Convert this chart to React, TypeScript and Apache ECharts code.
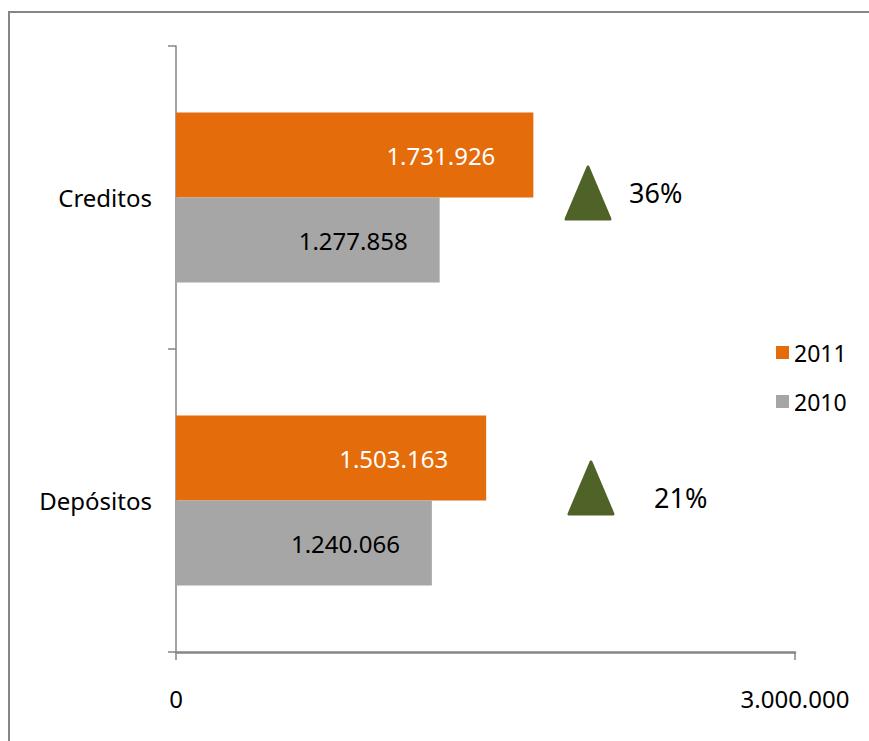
import React, { useEffect, useRef } from "react";
import * as echarts from "echarts";

const categories = ["Creditos", "Depósitos"];
const seriesNames = ["2011", "2010"];
const values2011 = [1731926, 1503163];
const values2010 = [1277858, 1240066];
const axisTicks = [0, 3000000];

const FONT = "Noto Sans";

function fmt(v: number): string {
  return Math.round(v).toString().replace(/\B(?=(\d{3})+(?!\d))/g, ".");
}

function pct(a: number, b: number): string {
  return Math.round((a / b - 1) * 100) + "%";
}

export default function App() {
  const ref = useRef<HTMLDivElement>(null);
  useEffect(() => {
    if (!ref.current) return;
    const chart = echarts.init(ref.current, undefined, { renderer: "svg" });
    const growth = categories.map((_, i) => pct(values2011[i], values2010[i]));
    const tri = (cx: number, top: number) => ({
      type: "polygon",
      shape: {
        points: [
          [cx, top],
          [cx - 22, top + 52],
          [cx + 22, top + 52],
        ],
      },
      style: { fill: "#4F6228", stroke: "#4F6228", lineWidth: 3, lineJoin: "round" },
    });
    chart.setOption({
      animation: false,
      backgroundColor: "#ffffff",
      grid: { left: 176, right: 74, top: 46, bottom: 89, containLabel: false },
      legend: {
        data: seriesNames,
        orient: "vertical",
        left: 771,
        top: 336,
        icon: "rect",
        itemWidth: 13,
        itemHeight: 13,
        itemGap: 26,
        textStyle: { fontFamily: FONT, fontSize: 23, color: "#000" },
      },
      xAxis: {
        type: "value",
        min: axisTicks[0],
        max: axisTicks[1],
        interval: axisTicks[1] - axisTicks[0],
        axisLine: { show: true, lineStyle: { color: "#868686", width: 2.5 } },
        axisTick: { show: true, length: 8, lineStyle: { color: "#868686", width: 1.5 } },
        splitLine: { show: false },
        axisLabel: {
          margin: 34,
          fontFamily: FONT,
          fontSize: 24,
          color: "#000",
          formatter: (v: number) => fmt(v),
        },
      },
      yAxis: {
        type: "category",
        data: categories,
        inverse: true,
        axisLine: { show: true, lineStyle: { color: "#868686", width: 1.5 } },
        axisTick: { show: true, length: 8, lineStyle: { color: "#868686", width: 1.5 } },
        axisLabel: { margin: 24, fontFamily: FONT, fontSize: 24, color: "#000" },
      },
      series: [
        {
          name: seriesNames[0],
          type: "bar",
          data: values2011,
          barWidth: 85,
          barGap: "0%",
          itemStyle: { color: "#E46C0A" },
          label: {
            show: true,
            position: "insideRight",
            distance: 38,
            color: "#fff",
            fontFamily: FONT,
            fontSize: 24,
            formatter: (p: any) => fmt(p.value),
          },
        },
        {
          name: seriesNames[1],
          type: "bar",
          data: values2010,
          barWidth: 85,
          barGap: "0%",
          itemStyle: { color: "#A6A6A6" },
          label: {
            show: true,
            position: "insideRight",
            distance: 32,
            color: "#000",
            fontFamily: FONT,
            fontSize: 24,
            formatter: (p: any) => fmt(p.value),
          },
        },
      ],
      graphic: [
        {
          type: "rect",
          shape: { x: 9, y: 12, width: 900, height: 800 },
          style: { fill: "none", stroke: "#868686", lineWidth: 2 },
          z: -1,
        },
        tri(588, 167),
        tri(591, 462),
        {
          type: "text",
          x: 629,
          y: 192,
          style: { text: growth[0], fontFamily: FONT, fontSize: 27, fill: "#000", verticalAlign: "middle" },
        },
        {
          type: "text",
          x: 654,
          y: 497,
          style: { text: growth[1], fontFamily: FONT, fontSize: 27, fill: "#000", verticalAlign: "middle" },
        },
      ],
    });
    return () => chart.dispose();
  }, []);
  return (
    <div
      ref={ref}
      style={{ position: "fixed", left: 0, top: 0, width: 869, height: 741 }}
    />
  );
}
